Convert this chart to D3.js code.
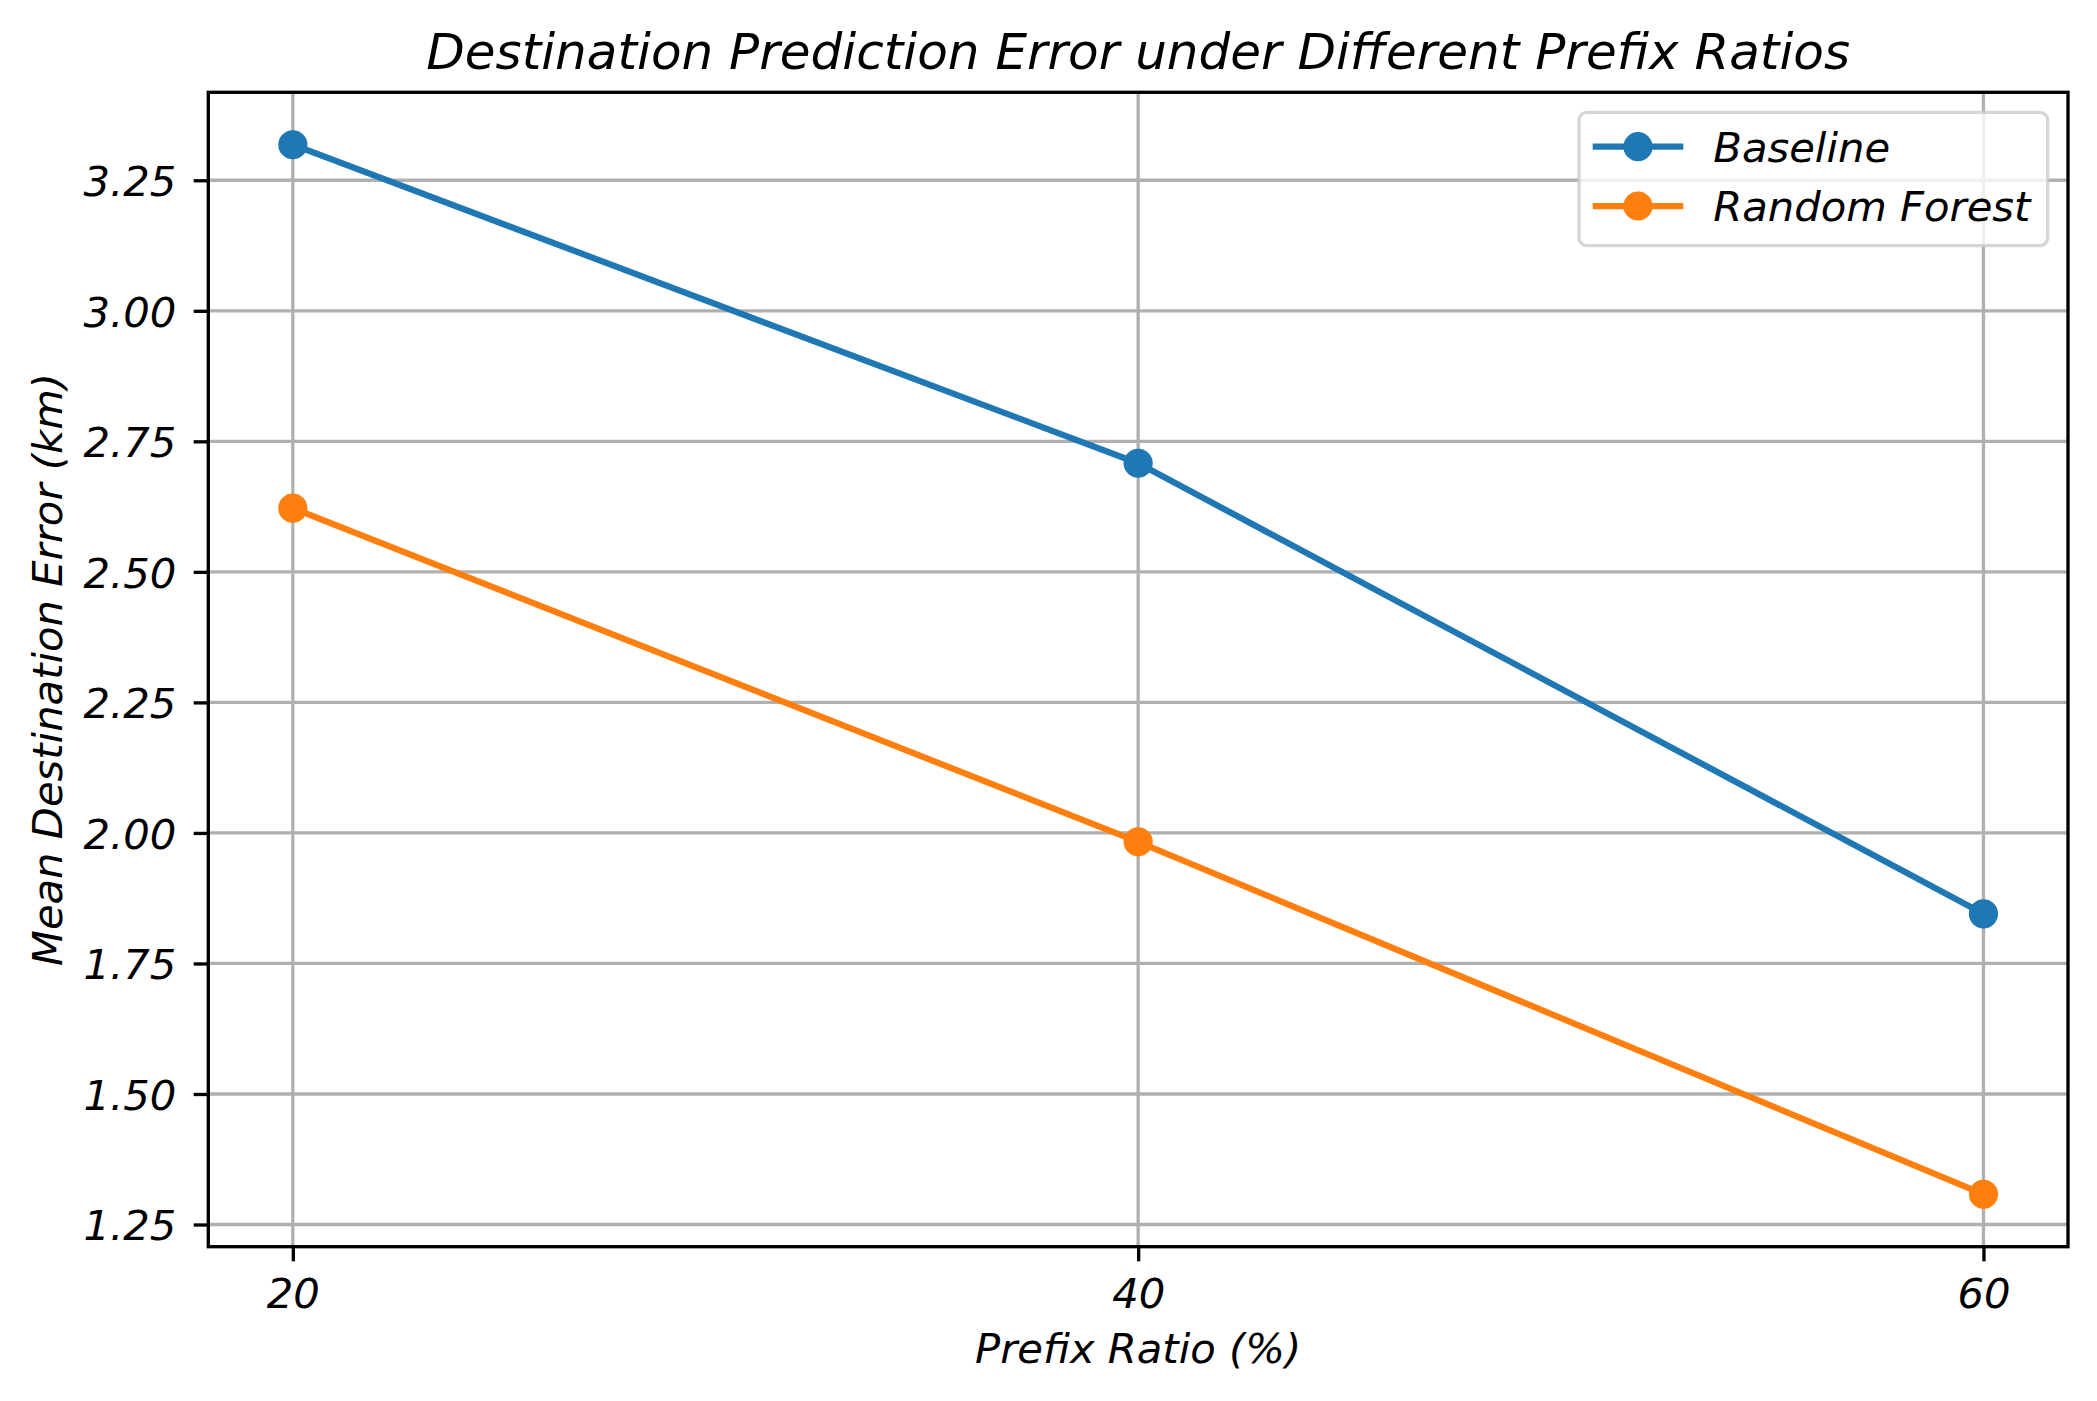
<!DOCTYPE html>
<html>
<head>
<meta charset="utf-8">
<script src="https://cdn.jsdelivr.net/npm/d3@7"></script>
<style>
  html, body { margin: 0; padding: 0; background: #fff; }
  svg { display: block; }
  text { font-family: "DejaVu Sans", sans-serif; font-style: italic; fill: #000; }
</style>
</head>
<body>
<script>
// ---- data ----
const prefixRatios = [20, 40, 60];
const baselineErr = [3.318, 2.708, 1.845];
const randomForestErr = [2.622, 1.983, 1.308];
const seriesNames = ["Baseline", "Random Forest"];
const seriesColors = ["#1f77b4", "#ff7f0e"];
const xTickValues = [20, 40, 60];
const yTickValues = [1.25, 1.50, 1.75, 2.00, 2.25, 2.50, 2.75, 3.00, 3.25];
const titleText = "Destination Prediction Error under Different Prefix Ratios";
const xLabelText = "Prefix Ratio (%)";
const yLabelText = "Mean Destination Error (km)";

// ---- layout ----
const W = 2097, H = 1401;
const mLeft = 208.3, mRight = 2068, mTop = 92.3, mBottom = 1246.7;
const fs = 41.7, titleFs = 50;
const lw = 3.33;

const svg = d3.select("body").append("svg").attr("width", W).attr("height", H);

const allVals = baselineErr.concat(randomForestErr);
const yMin = d3.min(allVals), yMax = d3.max(allVals);
const yPad = (yMax - yMin) * 0.05;
const xPad = (d3.max(prefixRatios) - d3.min(prefixRatios)) * 0.05;

const x = d3.scaleLinear().domain([d3.min(prefixRatios) - xPad, d3.max(prefixRatios) + xPad]).range([mLeft, mRight]);
const y = d3.scaleLinear().domain([yMin - yPad, yMax + yPad]).range([mBottom, mTop]);

// grid
const grid = svg.append("g");
grid.selectAll("line.gx").data(xTickValues).enter().append("line")
  .attr("x1", d => x(d)).attr("x2", d => x(d)).attr("y1", mTop).attr("y2", mBottom)
  .attr("stroke", "#b0b0b0").attr("stroke-width", lw);
grid.selectAll("line.gy").data(yTickValues).enter().append("line")
  .attr("y1", d => y(d)).attr("y2", d => y(d)).attr("x1", mLeft).attr("x2", mRight)
  .attr("stroke", "#b0b0b0").attr("stroke-width", lw);

// series
const series = [baselineErr, randomForestErr];
const line = d3.line().x((d, i) => x(prefixRatios[i])).y(d => y(d));
series.forEach((vals, si) => {
  svg.append("path").datum(vals).attr("d", line)
    .attr("fill", "none").attr("stroke", seriesColors[si]).attr("stroke-width", 6.25)
    .attr("stroke-linecap", "square").attr("stroke-linejoin", "round");
  svg.selectAll(null).data(vals).enter().append("circle")
    .attr("cx", (d, i) => x(prefixRatios[i])).attr("cy", d => y(d))
    .attr("r", 14.6).attr("fill", seriesColors[si]);
});

// axes
const xAxis = d3.axisBottom(x).tickValues(xTickValues).tickSize(14.6).tickPadding(14.6).tickFormat(d3.format("d"));
const gx = svg.append("g").attr("transform", `translate(0,${mBottom})`).call(xAxis);
gx.select(".domain").remove();
gx.selectAll(".tick line").attr("stroke", "#000").attr("stroke-width", lw);
gx.selectAll(".tick text").attr("font-size", fs).attr("font-family", "DejaVu Sans").attr("font-style", "italic")
  .attr("dy", null).attr("y", 61.5).attr("fill", "#000");

const yAxis = d3.axisLeft(y).tickValues(yTickValues).tickSize(14.6).tickPadding(14.6).tickFormat(d3.format(".2f"));
const gy = svg.append("g").attr("transform", `translate(${mLeft},0)`).call(yAxis);
gy.select(".domain").remove();
gy.selectAll(".tick line").attr("stroke", "#000").attr("stroke-width", lw);
gy.selectAll(".tick text").attr("font-size", fs).attr("font-family", "DejaVu Sans").attr("font-style", "italic")
  .attr("dy", null).attr("y", 15.3).attr("x", -32).attr("fill", "#000");

// spines
svg.append("rect").attr("x", mLeft).attr("y", mTop).attr("width", mRight - mLeft).attr("height", mBottom - mTop)
  .attr("fill", "none").attr("stroke", "#000").attr("stroke-width", lw);

// title & labels
svg.append("text").attr("x", (mLeft + mRight) / 2).attr("y", 69).attr("text-anchor", "middle")
  .attr("font-size", titleFs).text(titleText);
svg.append("text").attr("x", (mLeft + mRight) / 2).attr("y", 1363).attr("text-anchor", "middle")
  .attr("font-size", fs).text(xLabelText);
svg.append("text").attr("transform", `translate(61.7,${(mTop + mBottom) / 2}) rotate(-90)`)
  .attr("text-anchor", "middle").attr("font-size", fs).text(yLabelText);

// legend
const lg = svg.append("g");
lg.append("rect").attr("x", 1579).attr("y", 112.3).attr("width", 2047.7 - 1579).attr("height", 245.7 - 112.3)
  .attr("rx", 8).attr("ry", 8).attr("fill", "#fff").attr("fill-opacity", 0.8)
  .attr("stroke", "#cccccc").attr("stroke-opacity", 0.8).attr("stroke-width", lw);
const rowY = [146.7, 206];
seriesNames.forEach((name, i) => {
  lg.append("line").attr("x1", 1592.7).attr("x2", 1683.3).attr("y1", rowY[i]).attr("y2", rowY[i])
    .attr("stroke", seriesColors[i]).attr("stroke-width", 6.25);
  lg.append("circle").attr("cx", 1638).attr("cy", rowY[i]).attr("r", 14.6).attr("fill", seriesColors[i]);
  lg.append("text").attr("x", 1713.3).attr("y", rowY[i] + 15.3).attr("font-size", fs).text(name);
});
</script>
</body>
</html>
